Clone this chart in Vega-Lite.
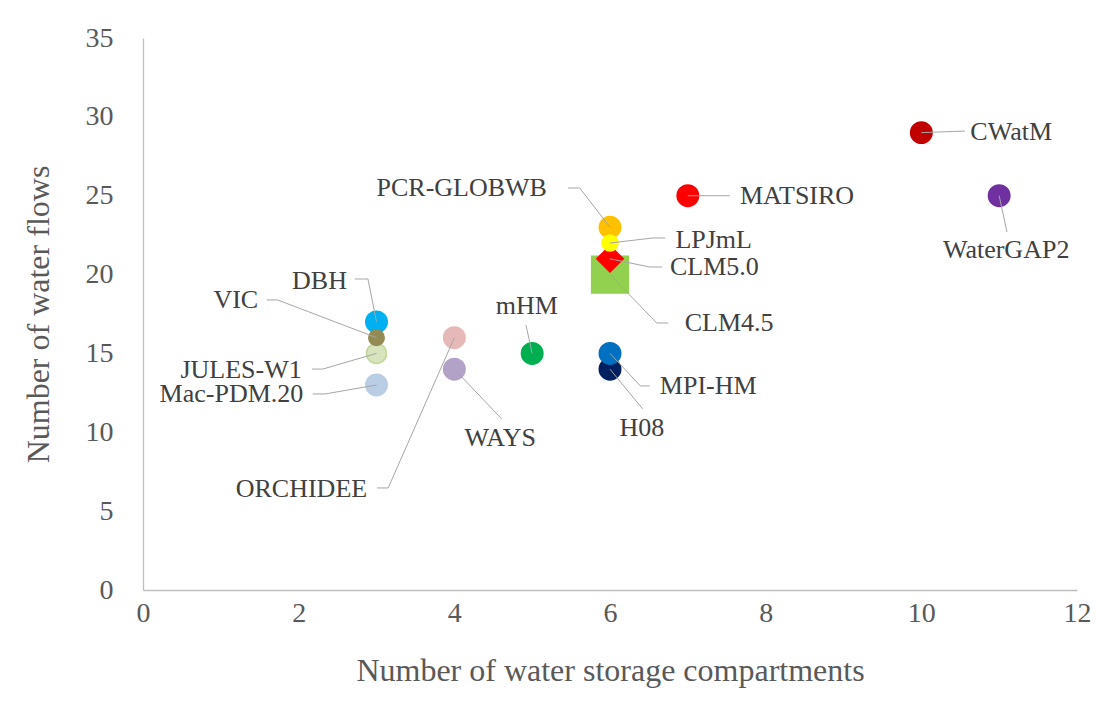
{
  "$schema": "https://vega.github.io/schema/vega-lite/v6.json",
  "width": 934,
  "height": 552,
  "autosize": {"type": "none"},
  "padding": {"left": 143, "top": 38, "right": 19, "bottom": 137},
  "background": "white",
  "config": {
    "view": {"stroke": null},
    "font": "Liberation Serif",
    "axis": {
      "grid": false,
      "ticks": false,
      "labelFlush": false,
      "labelOverlap": false,
      "domainColor": "#BFBFBF",
      "domainWidth": 1.3,
      "labelFont": "Liberation Serif",
      "titleFont": "Liberation Serif",
      "labelColor": "#595959",
      "titleColor": "#595959",
      "labelFontSize": 28,
      "titleFontSize": 32,
      "titleFontWeight": "normal"
    }
  },
  "datasets": {
    "models": [
      {"name": "CWatM", "storage": 10, "flows": 29},
      {"name": "WaterGAP2", "storage": 11, "flows": 25},
      {"name": "MATSIRO", "storage": 7, "flows": 25},
      {"name": "CLM4.5", "storage": 6, "flows": 20},
      {"name": "CLM5.0", "storage": 6, "flows": 21},
      {"name": "PCR-GLOBWB", "storage": 6, "flows": 23},
      {"name": "LPJmL", "storage": 6, "flows": 22},
      {"name": "H08", "storage": 6, "flows": 14},
      {"name": "MPI-HM", "storage": 6, "flows": 15},
      {"name": "mHM", "storage": 5, "flows": 15},
      {"name": "ORCHIDEE", "storage": 4, "flows": 16},
      {"name": "WAYS", "storage": 4, "flows": 14},
      {"name": "DBH", "storage": 3, "flows": 17},
      {"name": "JULES-W1", "storage": 3, "flows": 15},
      {"name": "VIC", "storage": 3, "flows": 16},
      {"name": "Mac-PDM.20", "storage": 3, "flows": 13}
    ],
    "leaders": [
      {"name": "CWatM", "seq": 0, "x": 10, "y": 29},
      {"name": "CWatM", "seq": 1, "x": 10.56, "y": 29.1},
      {"name": "WaterGAP2", "seq": 0, "x": 11, "y": 25},
      {"name": "WaterGAP2", "seq": 1, "x": 11.1, "y": 22.7},
      {"name": "MATSIRO", "seq": 0, "x": 7, "y": 25},
      {"name": "MATSIRO", "seq": 1, "x": 7.54, "y": 25},
      {"name": "PCR-GLOBWB", "seq": 0, "x": 6, "y": 23},
      {"name": "PCR-GLOBWB", "seq": 1, "x": 5.61, "y": 25.49},
      {"name": "PCR-GLOBWB", "seq": 2, "x": 5.46, "y": 25.49},
      {"name": "LPJmL", "seq": 0, "x": 6, "y": 22},
      {"name": "LPJmL", "seq": 1, "x": 6.55, "y": 22.32},
      {"name": "LPJmL", "seq": 2, "x": 6.71, "y": 22.32},
      {"name": "CLM5.0", "seq": 0, "x": 6, "y": 21},
      {"name": "CLM5.0", "seq": 1, "x": 6.51, "y": 20.48},
      {"name": "CLM5.0", "seq": 2, "x": 6.67, "y": 20.48},
      {"name": "CLM4.5", "seq": 0, "x": 6, "y": 20},
      {"name": "CLM4.5", "seq": 1, "x": 6.6, "y": 16.93},
      {"name": "CLM4.5", "seq": 2, "x": 6.75, "y": 16.93},
      {"name": "mHM", "seq": 0, "x": 5, "y": 15},
      {"name": "mHM", "seq": 1, "x": 4.92, "y": 16.8},
      {"name": "MPI-HM", "seq": 0, "x": 6, "y": 15},
      {"name": "MPI-HM", "seq": 1, "x": 6.39, "y": 12.94},
      {"name": "MPI-HM", "seq": 2, "x": 6.51, "y": 12.94},
      {"name": "H08", "seq": 0, "x": 6, "y": 14},
      {"name": "H08", "seq": 1, "x": 6.42, "y": 11.48},
      {"name": "WAYS", "seq": 0, "x": 4, "y": 14},
      {"name": "WAYS", "seq": 1, "x": 4.61, "y": 10.84},
      {"name": "ORCHIDEE", "seq": 0, "x": 4, "y": 16},
      {"name": "ORCHIDEE", "seq": 1, "x": 3.15, "y": 6.47},
      {"name": "ORCHIDEE", "seq": 2, "x": 3.01, "y": 6.47},
      {"name": "DBH", "seq": 0, "x": 3, "y": 17},
      {"name": "DBH", "seq": 1, "x": 2.89, "y": 19.72},
      {"name": "DBH", "seq": 2, "x": 2.72, "y": 19.72},
      {"name": "VIC", "seq": 0, "x": 3, "y": 16},
      {"name": "VIC", "seq": 1, "x": 1.73, "y": 18.39},
      {"name": "VIC", "seq": 2, "x": 1.59, "y": 18.39},
      {"name": "JULES-W1", "seq": 0, "x": 3, "y": 15},
      {"name": "JULES-W1", "seq": 1, "x": 2.31, "y": 14.01},
      {"name": "JULES-W1", "seq": 2, "x": 2.17, "y": 14.01},
      {"name": "Mac-PDM.20", "seq": 0, "x": 3, "y": 13},
      {"name": "Mac-PDM.20", "seq": 1, "x": 2.34, "y": 12.43},
      {"name": "Mac-PDM.20", "seq": 2, "x": 2.18, "y": 12.43}
    ],
    "labelsLeft": [
      {"name": "CWatM", "x": 10.63, "y": 29.04},
      {"name": "MATSIRO", "x": 7.67, "y": 24.98},
      {"name": "LPJmL", "x": 6.84, "y": 22.19},
      {"name": "CLM5.0", "x": 6.77, "y": 20.48},
      {"name": "CLM4.5", "x": 6.96, "y": 16.93},
      {"name": "MPI-HM", "x": 6.64, "y": 12.94}
    ],
    "labelsRight": [
      {"name": "PCR-GLOBWB", "x": 5.19, "y": 25.49},
      {"name": "ORCHIDEE", "x": 2.88, "y": 6.4},
      {"name": "DBH", "x": 2.62, "y": 19.59},
      {"name": "VIC", "x": 1.48, "y": 18.39},
      {"name": "JULES-W1", "x": 2.04, "y": 13.98},
      {"name": "Mac-PDM.20", "x": 2.06, "y": 12.45}
    ],
    "labelsCenter": [
      {"name": "WaterGAP2", "x": 11.09, "y": 21.56},
      {"name": "mHM", "x": 4.93, "y": 18.0},
      {"name": "H08", "x": 6.41, "y": 10.27},
      {"name": "WAYS", "x": 4.59, "y": 9.64}
    ]
  },
  "layer": [
    {
      "data": {"name": "models"},
      "mark": {"type": "point", "filled": true, "opacity": 1, "strokeWidth": 1.5},
      "encoding": {
        "x": {
          "field": "storage", "type": "quantitative",
          "scale": {"domain": [0, 12], "nice": false, "zero": true},
          "axis": {"values": [0, 2, 4, 6, 8, 10, 12], "format": "d", "title": "Number of water storage compartments", "labelPadding": 9, "titlePadding": 28}
        },
        "y": {
          "field": "flows", "type": "quantitative",
          "scale": {"domain": [0, 35], "nice": false},
          "axis": {"values": [0, 5, 10, 15, 20, 25, 30, 35], "format": "d", "title": "Number of water flows", "labelPadding": 30, "titlePadding": 30}
        },
        "color": {
          "field": "name", "type": "nominal", "legend": null,
          "scale": {
            "domain": ["CWatM", "WaterGAP2", "MATSIRO", "CLM4.5", "CLM5.0", "PCR-GLOBWB", "LPJmL", "H08", "MPI-HM", "mHM", "ORCHIDEE", "WAYS", "DBH", "JULES-W1", "VIC", "Mac-PDM.20"],
            "range": ["#C00000", "#7030A0", "#FF0000", "#92D050", "#FF0000", "#FFC000", "#FFFF00", "#002060", "#0070C0", "#00B050", "#E6B9B8", "#B3A2C7", "#00B0F0", "#D7E4BD", "#948A54", "#B9CDE5"]
          }
        },
        "stroke": {
          "field": "name", "type": "nominal", "legend": null,
          "scale": {
            "domain": ["CWatM", "WaterGAP2", "MATSIRO", "CLM4.5", "CLM5.0", "PCR-GLOBWB", "LPJmL", "H08", "MPI-HM", "mHM", "ORCHIDEE", "WAYS", "DBH", "JULES-W1", "VIC", "Mac-PDM.20"],
            "range": ["#C00000", "#7030A0", "#FF0000", "#92D050", "#FF0000", "#FFC000", "#FFFF00", "#002060", "#0070C0", "#00B050", "#E6B9B8", "#B3A2C7", "#00B0F0", "#C3D69B", "#948A54", "#B9CDE5"]
          }
        },
        "shape": {
          "field": "name", "type": "nominal", "legend": null,
          "scale": {
            "domain": ["CWatM", "WaterGAP2", "MATSIRO", "CLM4.5", "CLM5.0", "PCR-GLOBWB", "LPJmL", "H08", "MPI-HM", "mHM", "ORCHIDEE", "WAYS", "DBH", "JULES-W1", "VIC", "Mac-PDM.20"],
            "range": ["circle", "circle", "circle", "square", "diamond", "circle", "circle", "circle", "circle", "circle", "circle", "circle", "circle", "circle", "circle", "circle"]
          }
        },
        "size": {
          "condition": [
            {"test": "datum.name === 'CLM4.5'", "value": 1350},
            {"test": "datum.name === 'CLM5.0'", "value": 700},
            {"test": "datum.name === 'LPJmL'", "value": 256},
            {"test": "datum.name === 'VIC'", "value": 240},
            {"test": "datum.name === 'JULES-W1'", "value": 400}
          ],
          "value": 460
        }
      }
    },
    {
      "data": {"name": "leaders"},
      "mark": {"type": "line", "color": "#A6A6A6", "strokeWidth": 1},
      "encoding": {
        "x": {"field": "x", "type": "quantitative"},
        "y": {"field": "y", "type": "quantitative"},
        "detail": {"field": "name"},
        "order": {"field": "seq", "type": "quantitative"}
      }
    },
    {
      "data": {"name": "labelsLeft"},
      "mark": {"type": "text", "align": "left", "baseline": "middle", "font": "Liberation Serif", "fontSize": 26, "color": "#404040"},
      "encoding": {
        "x": {"field": "x", "type": "quantitative"},
        "y": {"field": "y", "type": "quantitative"},
        "text": {"field": "name"}
      }
    },
    {
      "data": {"name": "labelsRight"},
      "mark": {"type": "text", "align": "right", "baseline": "middle", "font": "Liberation Serif", "fontSize": 26, "color": "#404040"},
      "encoding": {
        "x": {"field": "x", "type": "quantitative"},
        "y": {"field": "y", "type": "quantitative"},
        "text": {"field": "name"}
      }
    },
    {
      "data": {"name": "labelsCenter"},
      "mark": {"type": "text", "align": "center", "baseline": "middle", "font": "Liberation Serif", "fontSize": 26, "color": "#404040"},
      "encoding": {
        "x": {"field": "x", "type": "quantitative"},
        "y": {"field": "y", "type": "quantitative"},
        "text": {"field": "name"}
      }
    }
  ]
}
